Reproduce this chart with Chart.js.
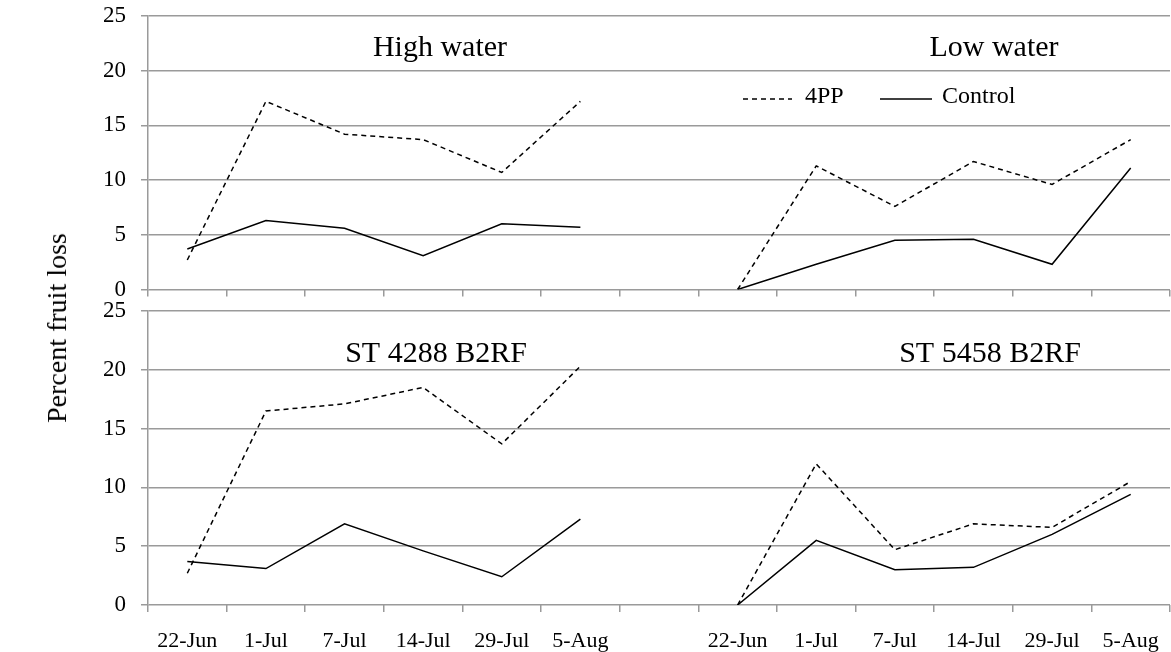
<!DOCTYPE html>
<html>
<head>
<meta charset="utf-8">
<script src="https://cdn.jsdelivr.net/npm/chart.js@4"></script>
<style>
  body { margin: 0; background: #fff; width: 1171px; height: 652px; position: relative; overflow: hidden; }
  .panel { position: absolute; left: 0; width: 1171px; }
  #ylab {
    position: absolute; left: 57px; top: 328px;
    transform: translate(-50%, -50%) rotate(-90deg);
    font: 28px "Liberation Serif", "Times New Roman", serif;
    white-space: nowrap; color: #000;
  }
</style>
</head>
<body>
<div class="panel" style="top:0;height:300px"><canvas id="topChart"></canvas></div>
<div class="panel" style="top:296px;height:356px"><canvas id="bottomChart"></canvas></div>
<div id="ylab">Percent fruit loss</div>
<script>
// dates on each half of the x axis, with one empty slot between the halves
var dates = ['22-Jun', '1-Jul', '7-Jul', '14-Jul', '29-Jul', '5-Aug'];
var categories = dates.concat([''], dates);
var yTicks = [0, 5, 10, 15, 20, 25];

var highWater4PP = [2.7, 17.2, 14.2, 13.7, 10.7, 17.2];
var highWaterControl = [3.7, 6.3, 5.6, 3.1, 6.0, 5.7];
var lowWater4PP = [0, 11.3, 7.6, 11.7, 9.6, 13.7];
var lowWaterControl = [0, 2.3, 4.5, 4.6, 2.3, 11.1];
var st4288_4PP = [2.7, 16.5, 17.1, 18.5, 13.7, 20.3];
var st4288Control = [3.7, 3.1, 6.9, 4.6, 2.4, 7.3];
var st5458_4PP = [0, 12.0, 4.7, 6.9, 6.6, 10.5];
var st5458Control = [0, 5.5, 3.0, 3.2, 6.0, 9.4];

var SERIF = '"Liberation Serif", "Times New Roman", serif';
var GRID = '#9a9a9a';

function leftHalf(v) {
  return v.concat(new Array(dates.length + 1).fill(null));
}
function rightHalf(v) {
  return new Array(dates.length + 1).fill(null).concat(v);
}

function line(label, data, dashed) {
  return {
    label: label,
    data: data,
    borderColor: '#000',
    borderWidth: 1.5,
    borderDash: dashed ? [5, 4] : [],
    pointRadius: 0,
    tension: 0,
    spanGaps: false
  };
}

// no automatic label padding, so layout.padding alone places the plot
function noPadding(scale) {
  scale.paddingTop = 0;
  scale.paddingBottom = 0;
  scale.paddingLeft = 0;
  scale.paddingRight = 0;
}

// panel titles and legend drawn over the chart
var panelText = {
  id: 'panelText',
  afterDraw: function(chart, args, opts) {
    var ctx = chart.ctx;
    ctx.save();
    ctx.fillStyle = '#000';
    ctx.textBaseline = 'middle';
    ctx.textAlign = 'center';
    ctx.font = '30px ' + SERIF;
    opts.titles.forEach(function(t) {
      ctx.fillText(t.text, t.x, t.y);
    });
    if (opts.legend) {
      var y = 99;
      ctx.strokeStyle = '#000';
      ctx.lineWidth = 1.5;
      ctx.setLineDash([5, 4]);
      ctx.beginPath(); ctx.moveTo(743, y); ctx.lineTo(792, y); ctx.stroke();
      ctx.setLineDash([]);
      ctx.beginPath(); ctx.moveTo(880, y); ctx.lineTo(932, y); ctx.stroke();
      ctx.textAlign = 'left';
      ctx.font = '24px ' + SERIF;
      ctx.fillText('4PP', 805, y - 2);
      ctx.fillText('Control', 942, y - 2);
    }
    ctx.restore();
  }
};

function makeChart(id, datasets, opts) {
  var ctx = document.getElementById(id).getContext('2d');
  return new Chart(ctx, {
    type: 'line',
    data: { labels: categories, datasets: datasets },
    plugins: [panelText],
    options: {
      responsive: true,
      maintainAspectRatio: false,
      animation: false,
      layout: { padding: { top: opts.padTop, right: 1, left: 0, bottom: 0 } },
      plugins: {
        legend: { display: false },
        tooltip: { enabled: false },
        panelText: { titles: opts.titles, legend: opts.legend }
      },
      scales: {
        x: {
          type: 'category',
          offset: true,
          grid: {
            offset: true,
            drawOnChartArea: false,
            drawTicks: true,
            tickLength: 7,
            color: GRID,
            lineWidth: 1.5
          },
          border: { display: false },
          ticks: {
            display: opts.showLabels,
            autoSkip: false,
            maxRotation: 0,
            padding: 16,
            color: '#000',
            font: { family: SERIF, size: 22 }
          },
          afterFit: function(scale) {
            noPadding(scale);
            scale.height = opts.xHeight;
          }
        },
        y: {
          min: 0,
          max: 25,
          afterBuildTicks: function(scale) {
            scale.ticks = yTicks.map(function(v) { return { value: v }; });
          },
          grid: { color: GRID, lineWidth: 1.5, tickLength: 7 },
          border: { display: true, color: GRID, width: 1.5 },
          ticks: {
            padding: 15,
            color: '#000',
            font: { family: SERIF, size: 23 }
          },
          afterFit: function(scale) {
            noPadding(scale);
            scale.width = 148;
          }
        }
      }
    }
  });
}

makeChart('topChart', [
  line('4PP', leftHalf(highWater4PP), true),
  line('Control', leftHalf(highWaterControl), false),
  line('4PP', rightHalf(lowWater4PP), true),
  line('Control', rightHalf(lowWaterControl), false)
], {
  padTop: 16,
  xHeight: 10.5,
  showLabels: false,
  legend: true,
  titles: [
    { text: 'High water', x: 440, y: 48 },
    { text: 'Low water', x: 994, y: 48 }
  ]
});

makeChart('bottomChart', [
  line('4PP', leftHalf(st4288_4PP), true),
  line('Control', leftHalf(st4288Control), false),
  line('4PP', rightHalf(st5458_4PP), true),
  line('Control', rightHalf(st5458Control), false)
], {
  padTop: 15,
  xHeight: 47,
  showLabels: true,
  legend: false,
  titles: [
    { text: 'ST 4288 B2RF', x: 436, y: 58 },
    { text: 'ST 5458 B2RF', x: 990, y: 58 }
  ]
});
</script>
</body>
</html>
